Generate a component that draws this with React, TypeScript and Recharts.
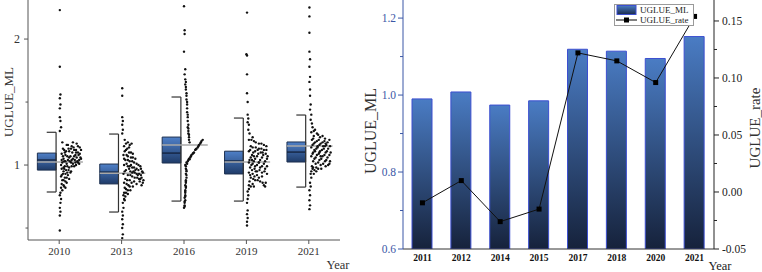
import {
  Bar,
  ComposedChart,
  Legend,
  Line,
  ReferenceArea,
  ReferenceLine,
  Scatter,
  ScatterChart,
  XAxis,
  YAxis,
} from "recharts";

const FONT = "Liberation Serif, Times New Roman, serif";

// left panel: distribution by survey year
const boxYears = ["2010", "2013", "2016", "2019", "2021"];
const q1 = [0.96, 0.85, 1.016, 0.929, 1.024];
const median = [1.04, 0.944, 1.095, 1.032, 1.103];
const q3 = [1.095, 1.008, 1.222, 1.11, 1.183];
const whiskerLow = [0.786, 0.627, 0.714, 0.714, 0.825];
const whiskerHigh = [1.26, 1.246, 1.54, 1.373, 1.397];
const mean = [1.024, 0.935, 1.159, 1.024, 1.151];

// [jitter, value] per city
const pts2010 = [
  [0.01, 2.23], [0.01, 1.78], [0.02, 1.56], [0.01, 1.53], [0.02, 1.48], [0.01, 1.45], [0.01, 1.38], [0.02, 1.35],
  [0.03, 1.3], [0.01, 1.27], [0.01, 0.48], [0.01, 0.6], [0.02, 0.63], [0.01, 0.66], [0.02, 0.7], [0.03, 0.73],
  [0.01, 0.76], [0.02, 0.78], [0.05, 1.18], [0.12, 1.16], [0.2, 1.15], [0.28, 1.17], [0.33, 1.14], [0.08, 1.12],
  [0.16, 1.11], [0.24, 1.12], [0.3, 1.1], [0.04, 1.09], [0.1, 1.08], [0.18, 1.07], [0.26, 1.08], [0.34, 1.06],
  [0.07, 1.05], [0.14, 1.04], [0.22, 1.05], [0.29, 1.03], [0.05, 1.02], [0.12, 1.01], [0.19, 1.02], [0.27, 1.0],
  [0.32, 1.01], [0.09, 0.99], [0.16, 0.98], [0.24, 0.99], [0.04, 0.97], [0.11, 0.96], [0.19, 0.95], [0.06, 0.93],
  [0.14, 0.92], [0.09, 0.9], [0.16, 0.89], [0.05, 0.88], [0.12, 0.86], [0.07, 0.84], [0.1, 0.82], [0.05, 0.8],
  [0.08, 0.97], [0.21, 1.1], [0.15, 1.13], [0.25, 1.04], [0.31, 1.08], [0.03, 1.0], [0.18, 0.94], [0.13, 1.07],
  [0.23, 1.14], [0.08, 1.03], [0.2, 0.99], [0.03, 0.91], [0.11, 1.11], [0.27, 1.12],
  [0.06, 1.13], [0.14, 1.16], [0.22, 1.18], [0.3, 1.15], [0.35, 1.12], [0.09, 1.1], [0.19, 1.13], [0.27, 1.1],
  [0.33, 1.09], [0.06, 1.07], [0.16, 1.06], [0.24, 1.07], [0.32, 1.04], [0.1, 1.03], [0.2, 1.04], [0.28, 1.06],
  [0.04, 1.04], [0.13, 0.99], [0.22, 1.01], [0.3, 1.02], [0.07, 0.98], [0.15, 0.96], [0.07, 0.95], [0.13, 0.94],
  [0.1, 0.93], [0.04, 0.92], [0.12, 0.9], [0.07, 0.88], [0.1, 0.87], [0.04, 0.85], [0.08, 0.83], [0.03, 0.82],
  [0.17, 1.03], [0.26, 1.02], [0.35, 1.05],
];
const pts2013 = [
  [0.01, 1.61], [0.01, 1.55], [0.01, 1.38], [0.02, 1.35], [0.01, 1.32], [0.02, 1.28], [0.01, 1.25], [0.01, 0.42],
  [0.02, 0.45], [0.01, 0.5], [0.02, 0.53], [0.01, 0.57], [0.02, 0.6], [0.01, 0.63], [0.03, 0.66], [0.02, 0.7],
  [0.04, 0.73], [0.05, 1.2], [0.1, 1.18], [0.16, 1.17], [0.04, 1.15], [0.12, 1.14], [0.07, 1.12], [0.15, 1.1],
  [0.03, 1.08], [0.1, 1.07], [0.18, 1.06], [0.06, 1.04], [0.13, 1.03], [0.2, 1.02], [0.27, 1.0], [0.04, 1.0],
  [0.1, 0.99], [0.17, 0.98], [0.24, 0.97], [0.31, 0.97], [0.07, 0.96], [0.14, 0.95], [0.21, 0.94], [0.28, 0.93],
  [0.34, 0.94], [0.03, 0.93], [0.1, 0.92], [0.17, 0.91], [0.25, 0.9], [0.32, 0.9], [0.06, 0.89], [0.13, 0.88],
  [0.2, 0.87], [0.29, 0.87], [0.34, 0.86], [0.04, 0.86], [0.11, 0.84], [0.18, 0.83], [0.07, 0.81], [0.14, 0.8],
  [0.04, 0.78], [0.1, 0.77], [0.06, 0.75], [0.22, 0.96], [0.15, 1.0], [0.08, 1.01], [0.26, 0.92], [0.19, 0.95],
  [0.12, 0.97], [0.3, 0.89], [0.08, 0.85],
  [0.07, 1.17], [0.13, 1.16], [0.09, 1.13], [0.05, 1.11], [0.12, 1.1], [0.18, 1.09], [0.08, 1.08], [0.15, 1.06],
  [0.22, 1.05], [0.04, 1.05], [0.1, 1.04], [0.17, 1.03], [0.24, 1.01], [0.3, 0.99], [0.13, 0.99], [0.2, 0.98],
  [0.27, 0.96], [0.33, 0.95], [0.05, 0.95], [0.17, 0.94], [0.24, 0.93], [0.31, 0.92], [0.14, 0.92], [0.21, 0.9],
  [0.28, 0.89], [0.35, 0.88], [0.09, 0.88], [0.16, 0.86], [0.24, 0.85], [0.32, 0.84], [0.13, 0.83], [0.05, 0.82],
  [0.1, 0.8], [0.07, 0.78], [0.03, 0.76], [0.05, 0.72],
];
const pts2016 = [
  [0.0, 2.26], [0.01, 2.07], [0.01, 2.04], [0.0, 1.9], [0.02, 1.76], [0.02, 1.68], [0.03, 1.66], [0.02, 1.64],
  [0.03, 1.6], [0.04, 1.55], [0.04, 1.52], [0.05, 1.48], [0.05, 1.45], [0.05, 1.42], [0.06, 1.38], [0.06, 1.35],
  [0.07, 1.32], [0.06, 1.3], [0.07, 1.27], [0.07, 1.25], [0.08, 1.22], [0.08, 1.2], [0.09, 1.18], [0.02, 1.0],
  [0.04, 1.02], [0.06, 1.03], [0.08, 1.05], [0.1, 1.06], [0.12, 1.08], [0.14, 1.09], [0.16, 1.1], [0.18, 1.12],
  [0.2, 1.13], [0.22, 1.14], [0.24, 1.16], [0.26, 1.17], [0.28, 1.19], [0.3, 1.2], [0.03, 0.99], [0.05, 1.01],
  [0.07, 1.04], [0.09, 1.045], [0.03, 0.97], [0.04, 0.95], [0.03, 0.93], [0.04, 0.9], [0.03, 0.88], [0.03, 0.86],
  [0.02, 0.84], [0.03, 0.82], [0.02, 0.8], [0.02, 0.78], [0.02, 0.76], [0.01, 0.74], [0.02, 0.72], [0.01, 0.7],
  [0.01, 0.68], [0.0, 0.66],
  [0.01, 1.72], [0.03, 1.62], [0.04, 1.57], [0.05, 1.5], [0.06, 1.4], [0.07, 1.29], [0.08, 1.24], [0.11, 1.07],
  [0.15, 1.095], [0.19, 1.125], [0.23, 1.15], [0.27, 1.18], [0.04, 0.96], [0.04, 0.92], [0.03, 0.87], [0.03, 0.83],
  [0.02, 0.79], [0.02, 0.75], [0.01, 0.71], [0.01, 0.67],
];
const pts2019 = [
  [0.01, 2.21], [0.0, 1.88], [0.01, 1.87], [0.01, 1.72], [0.01, 1.57], [0.02, 1.5], [0.02, 1.4], [0.03, 1.37],
  [0.02, 1.34], [0.04, 1.32], [0.03, 1.28], [0.01, 0.52], [0.01, 0.55], [0.02, 0.58], [0.01, 0.61], [0.02, 0.64],
  [0.01, 0.7], [0.02, 0.73], [0.03, 0.76], [0.02, 0.79], [0.05, 1.25], [0.1, 1.22], [0.04, 1.2], [0.12, 1.19],
  [0.2, 1.17], [0.28, 1.16], [0.07, 1.15], [0.15, 1.14], [0.24, 1.13], [0.32, 1.12], [0.04, 1.11], [0.11, 1.1],
  [0.19, 1.09], [0.27, 1.08], [0.34, 1.07], [0.07, 1.06], [0.14, 1.05], [0.22, 1.04], [0.3, 1.03], [0.04, 1.02],
  [0.1, 1.01], [0.17, 1.0], [0.25, 0.99], [0.33, 0.99], [0.06, 0.98], [0.13, 0.97], [0.21, 0.96], [0.29, 0.95],
  [0.04, 0.94], [0.1, 0.93], [0.17, 0.92], [0.25, 0.91], [0.07, 0.9], [0.14, 0.88], [0.22, 0.87], [0.31, 0.86],
  [0.28, 0.84], [0.05, 0.87], [0.1, 0.85], [0.07, 0.83], [0.04, 0.81], [0.18, 1.12], [0.26, 1.1], [0.09, 1.04],
  [0.2, 1.02], [0.15, 0.95], [0.12, 1.07],
  [0.08, 1.2], [0.15, 1.18], [0.24, 1.17], [0.32, 1.15], [0.1, 1.14], [0.2, 1.13], [0.28, 1.12], [0.06, 1.12],
  [0.14, 1.11], [0.23, 1.1], [0.31, 1.09], [0.09, 1.08], [0.17, 1.07], [0.25, 1.06], [0.33, 1.05], [0.05, 1.04],
  [0.12, 1.03], [0.2, 1.02], [0.28, 1.01], [0.08, 1.0], [0.14, 0.99], [0.22, 0.98], [0.3, 0.97], [0.09, 0.96],
  [0.17, 0.95], [0.25, 0.94], [0.33, 0.93], [0.06, 0.92], [0.13, 0.91], [0.2, 0.9], [0.11, 0.89], [0.18, 0.88],
  [0.26, 0.86], [0.04, 0.84], [0.12, 0.83], [0.3, 0.83],
];
const pts2021 = [
  [0.01, 2.25], [0.01, 2.18], [0.01, 2.05], [0.01, 1.9], [0.02, 1.84], [0.01, 1.78], [0.02, 1.7], [0.01, 1.66],
  [0.02, 1.6], [0.02, 1.55], [0.03, 1.48], [0.02, 1.44], [0.04, 1.4], [0.03, 1.36], [0.05, 1.33], [0.01, 0.65],
  [0.02, 0.68], [0.01, 0.72], [0.02, 0.76], [0.01, 0.8], [0.03, 0.83], [0.02, 0.86], [0.04, 0.9], [0.03, 0.93],
  [0.06, 1.3], [0.1, 1.28], [0.04, 1.26], [0.13, 1.25], [0.08, 1.23], [0.18, 1.22], [0.26, 1.21], [0.05, 1.2],
  [0.13, 1.19], [0.22, 1.18], [0.3, 1.18], [0.08, 1.17], [0.17, 1.16], [0.26, 1.15], [0.34, 1.15], [0.04, 1.14],
  [0.12, 1.13], [0.21, 1.12], [0.29, 1.11], [0.07, 1.1], [0.16, 1.09], [0.25, 1.08], [0.33, 1.08], [0.04, 1.07],
  [0.11, 1.06], [0.2, 1.05], [0.28, 1.04], [0.34, 1.03], [0.07, 1.03], [0.15, 1.02], [0.23, 1.01], [0.31, 1.0],
  [0.05, 0.99], [0.12, 0.98], [0.2, 0.97], [0.09, 0.96], [0.04, 0.95], [0.17, 1.1], [0.24, 1.13], [0.1, 1.11],
  [0.19, 1.07], [0.27, 1.17], [0.14, 1.15],
  [0.08, 1.27], [0.15, 1.24], [0.22, 1.23], [0.07, 1.21], [0.16, 1.2], [0.25, 1.19], [0.33, 1.2], [0.1, 1.18],
  [0.19, 1.17], [0.28, 1.16], [0.06, 1.16], [0.14, 1.14], [0.23, 1.15], [0.31, 1.13], [0.09, 1.12], [0.18, 1.11],
  [0.27, 1.1], [0.35, 1.1], [0.06, 1.09], [0.13, 1.08], [0.22, 1.07], [0.3, 1.06], [0.09, 1.05], [0.17, 1.04],
  [0.26, 1.03], [0.33, 1.01], [0.11, 1.01], [0.19, 1.0], [0.27, 0.99], [0.07, 0.98], [0.15, 0.97], [0.06, 0.97],
  [0.12, 0.95], [0.08, 0.93],
];
const groupPoints = [pts2010, pts2013, pts2016, pts2019, pts2021];

// right panel: yearly mean and growth rate
const barYears = ["2011", "2012", "2014", "2015", "2017", "2018", "2020", "2021"];
const uglueMl = [0.99, 1.008, 0.974, 0.985, 1.119, 1.114, 1.095, 1.152];
const uglueRate = [-0.0095, 0.01, -0.026, -0.015, 0.122, 0.115, 0.096, 0.154];

const scatterData = groupPoints.flatMap((pts, i) => pts.map(([dx, v]) => ({ x: i + dx, y: v })));
const barData = barYears.map((year, i) => ({ year, ml: uglueMl[i], rate: uglueRate[i] }));

const mlTicks = [0.6, 0.7, 0.8, 0.9, 1.0, 1.1, 1.2];
const rateTicks = [-0.05, -0.025, 0, 0.025, 0.05, 0.075, 0.1, 0.125, 0.15];

const BLUE_AXIS = "#3b57a6";

function LeftPanelTick({ x, y, payload }: any) {
  const major = Math.abs(payload.value - Math.round(payload.value)) < 1e-6;
  return (
    <g>
      <line x1={x - (major ? 4 : 2.5)} x2={x} y1={y} y2={y} stroke="#555" />
      {major && (
        <text x={x - 8} y={y} dy="0.35em" textAnchor="end" fontSize={12} fill="#333" fontFamily={FONT}>
          {payload.value}
        </text>
      )}
    </g>
  );
}

function MlTick({ x, y, payload }: any) {
  const major = Math.round(payload.value * 10) % 2 === 0;
  return (
    <g>
      <line x1={x - (major ? 5 : 3)} x2={x} y1={y} y2={y} stroke={BLUE_AXIS} />
      {major && (
        <text x={x - 7} y={y} dy="0.35em" textAnchor="end" fontSize={11.5} fill={BLUE_AXIS} fontFamily={FONT}>
          {payload.value.toFixed(1)}
        </text>
      )}
    </g>
  );
}

function RateTick({ x, y, payload }: any) {
  const major = Math.abs(payload.value * 20 - Math.round(payload.value * 20)) < 1e-6;
  return (
    <g>
      <line x1={x} x2={x + (major ? 5 : 3)} y1={y} y2={y} stroke="#222" />
      {major && (
        <text x={x + 8} y={y} dy="0.35em" textAnchor="start" fontSize={11.5} fill="#222" fontFamily={FONT}>
          {payload.value.toFixed(2)}
        </text>
      )}
    </g>
  );
}

function SquareDot({ cx, cy }: any) {
  if (cx == null || cy == null) return null;
  return <rect x={cx - 2.5} y={cy - 2.5} width={5} height={5} fill="#000" />;
}

function SmallDot({ cx, cy }: any) {
  return <circle cx={cx} cy={cy} r={1.2} fill="#111" />;
}

function ComboLegend() {
  return (
    <div
      style={{
        border: "1px solid #9a9a9a",
        background: "#fff",
        padding: "0 4px 0 1px",
        fontFamily: FONT,
        fontSize: 9,
        lineHeight: "10px",
        color: "#222",
      }}
    >
      <div style={{ display: "flex", alignItems: "center" }}>
        <svg width={22} height={10}>
          <defs>
            <linearGradient id="legendFill" x1="0" y1="0" x2="0" y2="1">
              <stop offset="0%" stopColor="#4a7cc4" />
              <stop offset="100%" stopColor="#1a2a4a" />
            </linearGradient>
          </defs>
          <rect x={1} y={0.5} width={19} height={9} fill="url(#legendFill)" stroke="#3c4fd0" />
        </svg>
        <span style={{ marginLeft: 2 }}>UGLUE_ML</span>
      </div>
      <div style={{ display: "flex", alignItems: "center" }}>
        <svg width={22} height={10}>
          <line x1={0} x2={21} y1={5} y2={5} stroke="#000" />
          <rect x={8} y={2.5} width={5} height={5} fill="#000" />
        </svg>
        <span style={{ marginLeft: 2 }}>UGLUE_rate</span>
      </div>
    </div>
  );
}

export default function App() {
  return (
    <div
      style={{
        position: "absolute",
        left: 0,
        top: 0,
        width: 762,
        height: 272,
        display: "flex",
        background: "#fff",
        fontFamily: FONT,
      }}
    >
      <ScatterChart width={352} height={272} margin={{ top: 0, right: 12, bottom: 0, left: 0 }}>
        <defs>
          <linearGradient id="boxFill" x1="0" y1="0" x2="0" y2="1">
            <stop offset="0%" stopColor="#4f80c8" />
            <stop offset="100%" stopColor="#1f3b68" />
          </linearGradient>
        </defs>
        <XAxis
          type="number"
          dataKey="x"
          domain={[-0.5, 4.5]}
          ticks={[0, 1, 2, 3, 4]}
          tickFormatter={(v: number) => boxYears[v]}
          height={32}
          tickSize={4}
          tickMargin={3}
          axisLine={{ stroke: "#555" }}
          tickLine={{ stroke: "#555" }}
          tick={{ fontSize: 11, fill: "#333", fontFamily: FONT }}
          allowDataOverflow
          label={{
            content: ({ viewBox }: any) => (
              <text
                x={viewBox.x + viewBox.width - 2}
                y={viewBox.y + 29}
                textAnchor="middle"
                fontSize={12.5}
                fill="#333"
                fontFamily={FONT}
              >
                Year
              </text>
            ),
          }}
        />
        <YAxis
          type="number"
          dataKey="y"
          domain={[0.405, 2.31]}
          ticks={[0.5, 1, 1.5, 2]}
          width={28}
          tickSize={0}
          tickMargin={0}
          tickLine={false}
          axisLine={{ stroke: "#555" }}
          tick={LeftPanelTick}
          allowDataOverflow
          label={{
            content: ({ viewBox }: any) => (
              <text
                transform={`translate(${viewBox.x + 8}, 102) rotate(-90)`}
                textAnchor="middle"
                dominantBaseline="central"
                fontSize={13}
                fill="#333"
                fontFamily={FONT}
              >
                UGLUE_ML
              </text>
            ),
          }}
        />
        {boxYears.map((year, i) => (
          <ReferenceArea
            key={`box-${year}`}
            x1={i - 0.35}
            x2={i - 0.05}
            y1={q1[i]}
            y2={q3[i]}
            fill="url(#boxFill)"
            fillOpacity={1}
            stroke="#1d3050"
            strokeWidth={1}
          />
        ))}
        {boxYears.map((year, i) => (
          <ReferenceLine
            key={`med-${year}`}
            segment={[{ x: i - 0.35, y: median[i] }, { x: i - 0.05, y: median[i] }]}
            stroke="#0f1c33"
            strokeWidth={1.2}
          />
        ))}
        {boxYears.map((year, i) => (
          <ReferenceLine
            key={`wv-${year}`}
            segment={[{ x: i - 0.05, y: whiskerLow[i] }, { x: i - 0.05, y: whiskerHigh[i] }]}
            stroke="#333"
            strokeWidth={1.2}
          />
        ))}
        {boxYears.map((year, i) => (
          <ReferenceLine
            key={`wt-${year}`}
            segment={[{ x: i - 0.2, y: whiskerHigh[i] }, { x: i - 0.05, y: whiskerHigh[i] }]}
            stroke="#333"
            strokeWidth={1.2}
          />
        ))}
        {boxYears.map((year, i) => (
          <ReferenceLine
            key={`wb-${year}`}
            segment={[{ x: i - 0.2, y: whiskerLow[i] }, { x: i - 0.05, y: whiskerLow[i] }]}
            stroke="#333"
            strokeWidth={1.2}
          />
        ))}
        <Scatter data={scatterData} shape={SmallDot} isAnimationActive={false} />
        {boxYears.map((year, i) => (
          <ReferenceLine
            key={`mean-${year}`}
            segment={[{ x: i - 0.35, y: mean[i] }, { x: i + 0.38, y: mean[i] }]}
            stroke="#a8a8a8"
            strokeWidth={1.5}
          />
        ))}
      </ScatterChart>

      <ComposedChart width={410} height={272} data={barData} margin={{ top: 0, right: 0, bottom: 0, left: 0 }}>
        <defs>
          <linearGradient id="barFill" x1="0" y1="0" x2="0" y2="1">
            <stop offset="0%" stopColor="#4a7cc4" />
            <stop offset="100%" stopColor="#16223b" />
          </linearGradient>
        </defs>
        <XAxis
          dataKey="year"
          height={23}
          tickLine={false}
          tickSize={3}
          tickMargin={2}
          axisLine={{ stroke: "#333" }}
          tick={{ fontSize: 9.5, fill: "#111", fontWeight: "bold", fontFamily: FONT }}
          interval={0}
          label={{
            content: ({ viewBox }: any) => (
              <text
                x={viewBox.x + viewBox.width + 6}
                y={viewBox.y + 21}
                textAnchor="middle"
                fontSize={12.5}
                fill="#222"
                fontFamily={FONT}
              >
                Year
              </text>
            ),
          }}
        />
        <YAxis
          yAxisId="left"
          domain={[0.6, 1.247]}
          ticks={mlTicks}
          width={51}
          tickSize={0}
          tickMargin={0}
          tickLine={false}
          axisLine={{ stroke: BLUE_AXIS }}
          tick={MlTick}
          allowDataOverflow
          label={{
            content: ({ viewBox }: any) => (
              <text
                transform={`translate(${viewBox.x + 18}, 131) rotate(-90)`}
                textAnchor="middle"
                dominantBaseline="central"
                fontSize={16}
                fill="#333"
                fontFamily={FONT}
              >
                UGLUE_ML
              </text>
            ),
          }}
        />
        <YAxis
          yAxisId="right"
          orientation="right"
          domain={[-0.05, 0.1684]}
          ticks={rateTicks}
          width={48}
          tickSize={0}
          tickMargin={0}
          tickLine={false}
          axisLine={{ stroke: "#222" }}
          tick={RateTick}
          allowDataOverflow
          label={{
            content: ({ viewBox }: any) => (
              <text
                transform={`translate(${viewBox.x + 41}, 128) rotate(-90)`}
                textAnchor="middle"
                dominantBaseline="central"
                fontSize={15}
                fill="#333"
                fontFamily={FONT}
              >
                UGLUE_rate
              </text>
            ),
          }}
        />
        <Legend
          layout="horizontal"
          verticalAlign="middle"
          content={<ComboLegend />}
          wrapperStyle={{ top: 4, left: 262, width: "auto" }}
        />
        <Bar
          yAxisId="left"
          dataKey="ml"
          name="UGLUE_ML"
          fill="url(#barFill)"
          stroke="#3c4fd0"
          strokeWidth={1}
          barSize={20}
          isAnimationActive={false}
        />
        <Line
          yAxisId="right"
          dataKey="rate"
          name="UGLUE_rate"
          type="linear"
          stroke="#111"
          strokeWidth={1}
          dot={SquareDot}
          activeDot={false}
          isAnimationActive={false}
        />
      </ComposedChart>
    </div>
  );
}
